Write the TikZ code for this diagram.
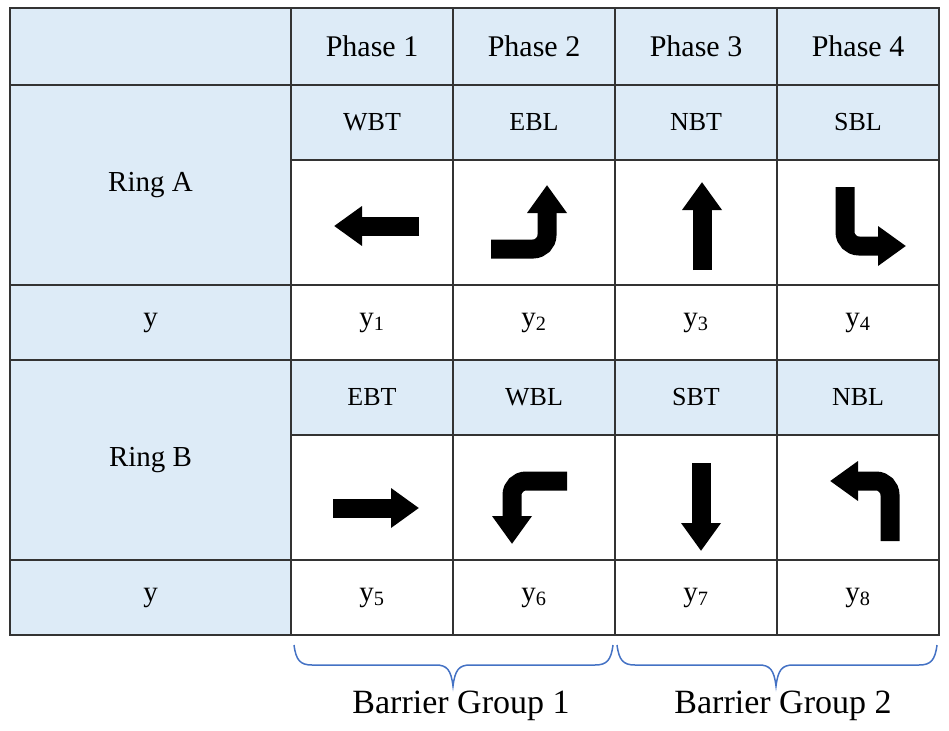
\documentclass[tikz,border=0pt]{standalone}
\usepackage{fontspec}
\setmainfont{Liberation Serif}
\usepackage{tikz}
\usetikzlibrary{arrows.meta}
\definecolor{cellblue}{RGB}{221,235,247}
\definecolor{braceblue}{RGB}{68,114,196}
\tikzstyle{fat arrow} = [line width=19pt,-{Triangle[length=28pt,width=38pt]},rounded corners=14pt]

\begin{document}
\begin{tikzpicture}[x=1pt,y=-1pt]
    \tikzstyle{cell}=[rectangle,draw=black!80,line width=1.5pt,inner sep=0pt,minimum width=162pt,font=\fontsize{26}{30}\selectfont]
    \tikzstyle{head cell}=[cell,fill=cellblue,minimum height=77pt,font=\fontsize{30}{36}\selectfont]
    \tikzstyle{move cell}=[cell,fill=cellblue,minimum height=75pt]
    \tikzstyle{arrow cell}=[cell,fill=white,minimum height=125pt]
    \tikzstyle{y cell}=[cell,fill=white,minimum height=75pt,font=\fontsize{29}{34}\selectfont]
    \tikzstyle{ring cell}=[cell,fill=cellblue,minimum width=281pt,font=\fontsize{29}{34}\selectfont]
    \tikzstyle{group label}=[font=\fontsize{34}{40}\selectfont]
    \tikzstyle{brace}=[draw=braceblue,line width=1.5pt]

    \useasboundingbox (0,0) rectangle (949,730);

    % Draw the header row
    \node[head cell,minimum width=281pt] (H-0) at (150.5,46.5) {};
    \foreach \name in {1,2,3,4}
        \node[head cell] (H-\name) at (210+\name*162,46.5) {Phase \name};

    % Draw the ring A block
    \node[ring cell,minimum height=200pt] (RA) at (150.5,185) {Ring A};
    \node[ring cell,minimum height=75pt] (YA) at (150.5,322.5) {y};
    \foreach \name / \mv / \n in {1/WBT/1,2/EBL/2,3/NBT/3,4/SBL/4}
    {
        \node[move cell] (MA-\name) at (210+\name*162,122.5) {\mv};
        \node[arrow cell] (AA-\name) at (210+\name*162,222.5) {};
        \node[y cell] (YA-\name) at (210+\name*162,322.5) {y\textsubscript{\n}};
    }

    % Draw the ring B block
    \node[ring cell,minimum height=200pt] (RB) at (150.5,460) {Ring B};
    \node[ring cell,minimum height=75pt] (YB) at (150.5,597.5) {y};
    \foreach \name / \mv / \n in {1/EBT/5,2/WBL/6,3/SBT/7,4/NBL/8}
    {
        \node[move cell] (MB-\name) at (210+\name*162,397.5) {\mv};
        \node[arrow cell] (AB-\name) at (210+\name*162,497.5) {};
        \node[y cell] (YB-\name) at (210+\name*162,597.5) {y\textsubscript{\n}};
    }

    % Movement arrows, ring A
    \draw[fat arrow] (419,226) -- (334,226);
    \draw[fat arrow] (491,249) -- (547,249) -- (547,185);
    \draw[fat arrow] (702,270) -- (702,182);
    \draw[fat arrow] (845,187) -- (845,246) -- (906,246);

    % Movement arrows, ring B
    \draw[fat arrow] (333,508) -- (419,508);
    \draw[fat arrow] (567,481) -- (512,481) -- (512,544);
    \draw[fat arrow] (701,463) -- (701,551);
    \draw[fat arrow] (890,541) -- (890,481) -- (830,481);

    % Barrier groups
    \foreach \a / \m / \b in {294/453/613,617/776/937}
        \draw[brace] (\a,645) .. controls (\a+2,660) and (\a+6,665) .. (\a+18,665) -- (\m-17,665)
            .. controls (\m-6,665) and (\m-2,670) .. (\m,686)
            .. controls (\m+2,670) and (\m+6,665) .. (\m+17,665) -- (\b-18,665)
            .. controls (\b-6,665) and (\b-2,660) .. (\b,645);
    \node[group label] (BG-1) at (461,706) {Barrier Group 1};
    \node[group label] (BG-2) at (783,706) {Barrier Group 2};
\end{tikzpicture}
\end{document}
